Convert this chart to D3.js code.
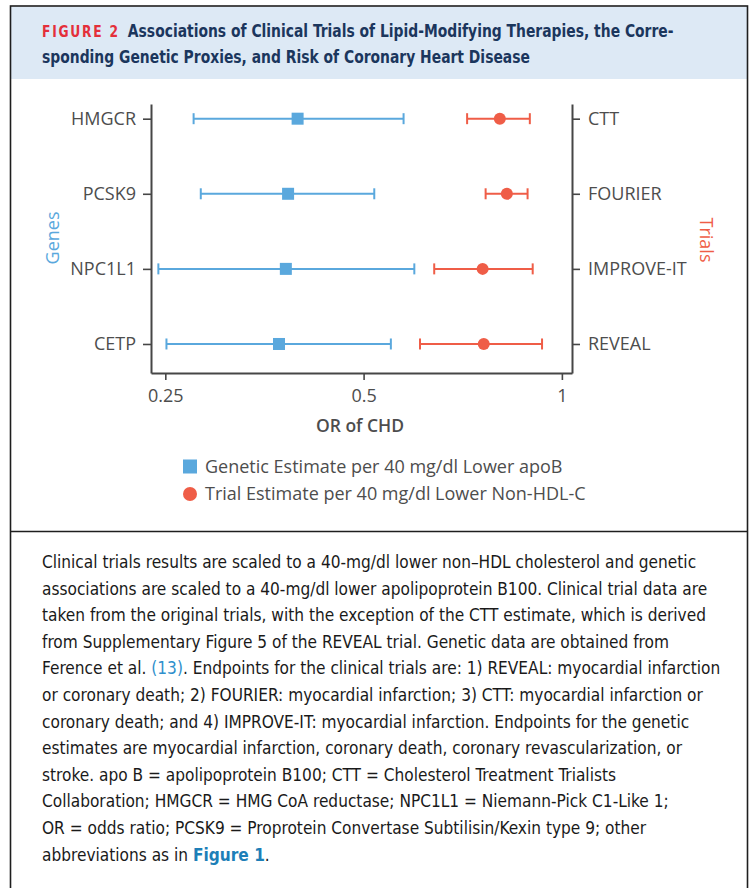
<!DOCTYPE html>
<html>
<head>
<meta charset="utf-8">
<script src="https://cdn.jsdelivr.net/npm/d3@7"></script>
<style>
  html, body { margin: 0; padding: 0; background: #fff; }
  svg { display: block; }
</style>
</head>
<body>
<svg id="fig" width="756" height="888"></svg>
<script>
// ---------- DATA ----------
const genes = ["HMGCR", "PCSK9", "NPC1L1", "CETP"];
const geneEst = [0.397, 0.384, 0.381, 0.372];
const geneLo  = [0.276, 0.283, 0.244, 0.251];
const geneHi  = [0.575, 0.519, 0.597, 0.550];

const trials = ["CTT", "FOURIER", "IMPROVE-IT", "REVEAL"];
const trialEst = [0.805, 0.825, 0.758, 0.761];
const trialLo  = [0.718, 0.766, 0.640, 0.609];
const trialHi  = [0.894, 0.887, 0.903, 0.933];

const xTicks = [0.25, 0.5, 1];
const xDomain = [0.2378, 1.036];

const legendLabels = ["Genetic Estimate per 40 mg/dl Lower apoB", "Trial Estimate per 40 mg/dl Lower Non-HDL-C"];
const titleTag = "FIGURE 2";
const titleLines = ["Associations of Clinical Trials of Lipid-Modifying Therapies, the Corre-",
                    "sponding Genetic Proxies, and Risk of Coronary Heart Disease"];
const captionLines = [
  [["Clinical trials results are scaled to a 40-mg/dl lower non\u2013HDL cholesterol and genetic", ""]],
  [["associations are scaled to a 40-mg/dl lower apolipoprotein B100. Clinical trial data are", ""]],
  [["taken from the original trials, with the exception of the CTT estimate, which is derived", ""]],
  [["from Supplementary Figure 5 of the REVEAL trial. Genetic data are obtained from", ""]],
  [["Ference et al. ", ""], ["(13)", "ref"], [". Endpoints for the clinical trials are: 1) REVEAL: myocardial infarction", ""]],
  [["or coronary death; 2) FOURIER: myocardial infarction; 3) CTT: myocardial infarction or", ""]],
  [["coronary death; and 4) IMPROVE-IT: myocardial infarction. Endpoints for the genetic", ""]],
  [["estimates are myocardial infarction, coronary death, coronary revascularization, or", ""]],
  [["stroke. apo B = apolipoprotein B100; CTT = Cholesterol Treatment Trialists", ""]],
  [["Collaboration; HMGCR = HMG CoA reductase; NPC1L1 = Niemann-Pick C1-Like 1;", ""]],
  [["OR = odds ratio; PCSK9 = Proprotein Convertase Subtilisin/Kexin type 9; other", ""]],
  [["abbreviations as in ", ""], ["Figure 1", "fig"], [".", ""]]
];

// ---------- STYLE ----------
const BLUE = "#5aa8dd", RED = "#ef5d47", AXIS = "#464646", LABEL = "#4d4d4d";
const chartFont = "'Open Sans', 'Noto Sans', sans-serif";
const condFont = "'Liberation Sans Narrow', 'DejaVu Sans Condensed', 'Roboto Condensed', sans-serif";
const FS = 18;

const svg = d3.select("#fig");

// frame
svg.append("rect").attr("x", 11).attr("y", 6.5).attr("width", 736).attr("height", 72.5)
  .attr("fill", "#dde9f5");
svg.append("rect").attr("x", 10.5).attr("y", 6).attr("width", 737).attr("height", 900)
  .attr("fill", "none").attr("stroke", "#1e1e1e").attr("stroke-width", 1.6);
svg.append("line").attr("x1", 10.5).attr("x2", 747.5).attr("y1", 531.5).attr("y2", 531.5)
  .attr("stroke", "#1e1e1e").attr("stroke-width", 1.6);

// title (condensed look by horizontal scaling)
const t2 = svg.append("text").attr("transform", "translate(42,62.5)")
  .attr("font-family", condFont).attr("font-weight", "bold").attr("font-size", 17.5).attr("fill", "#1b365d")
  .text(titleLines[1]);
const tk = 488 / t2.node().getComputedTextLength();
t2.attr("transform", `translate(42,62.5) scale(${tk},1)`);
const t1 = svg.append("text").attr("transform", `translate(42,37) scale(${tk},1)`)
  .attr("font-family", condFont).attr("font-weight", "bold").attr("font-size", 17.5).attr("fill", "#1b365d");
t1.append("tspan").text(titleTag).attr("fill", "#e42f3a").attr("letter-spacing", 2).attr("font-size", 15.5);
t1.append("tspan").attr("dx", 9).text(titleLines[0]);

// ---------- CHART ----------
const x = d3.scaleLog().base(2).domain(xDomain).range([151, 572]);
const yG = d3.scalePoint().domain(genes).range([104, 373]).padding(0.291).align(0.336);
const yT = d3.scalePoint().domain(trials).range([104, 373]).padding(0.291).align(0.336);

function styleAxis(g) {
  g.select(".domain").attr("stroke", AXIS).attr("stroke-width", 2);
  g.selectAll(".tick line").attr("stroke", AXIS).attr("stroke-width", 1.6);
  g.selectAll(".tick text").attr("fill", LABEL).attr("font-family", chartFont).attr("font-size", FS);
}

const gx = svg.append("g").attr("transform", "translate(0,373)")
  .call(d3.axisBottom(x).tickValues(xTicks).tickFormat(d3.format("")).tickSize(7).tickSizeOuter(0).tickPadding(9));
styleAxis(gx);
const gl = svg.append("g").attr("transform", "translate(151,0)")
  .call(d3.axisLeft(yG).tickSize(8).tickSizeOuter(0).tickPadding(7));
styleAxis(gl);
const gr = svg.append("g").attr("transform", "translate(572,0)")
  .call(d3.axisRight(yT).tickSize(8).tickSizeOuter(0).tickPadding(8));
styleAxis(gr);

// axis titles
svg.append("text").attr("x", 360).attr("y", 432).attr("text-anchor", "middle")
  .attr("font-family", chartFont).attr("font-weight", 600).attr("font-size", 17.5).attr("fill", LABEL)
  .text("OR of CHD");
svg.append("text").attr("transform", "translate(52,238) rotate(-90)").attr("text-anchor", "middle")
  .attr("dominant-baseline", "central").attr("font-family", chartFont).attr("font-size", FS).attr("fill", BLUE)
  .text("Genes");
svg.append("text").attr("transform", "translate(707,240) rotate(90)").attr("text-anchor", "middle")
  .attr("dominant-baseline", "central").attr("font-family", chartFont).attr("font-size", FS).attr("fill", RED)
  .text("Trials");

// error bars
function drawSeries(cats, y, est, lo, hi, color, shape) {
  const g = svg.append("g");
  const rows = cats.map((c, i) => ({ c, e: est[i], l: lo[i], h: hi[i] }));
  g.selectAll("line.ci").data(rows).join("line").attr("class", "ci")
    .attr("x1", d => x(d.l)).attr("x2", d => x(d.h)).attr("y1", d => y(d.c)).attr("y2", d => y(d.c))
    .attr("stroke", color).attr("stroke-width", 2);
  ["l", "h"].forEach(k => {
    g.selectAll("line.cap" + k).data(rows).join("line").attr("class", "cap" + k)
      .attr("x1", d => x(d[k])).attr("x2", d => x(d[k])).attr("y1", d => y(d.c) - 5.5).attr("y2", d => y(d.c) + 5.5)
      .attr("stroke", color).attr("stroke-width", 2);
  });
  if (shape === "square") {
    g.selectAll("rect").data(rows).join("rect")
      .attr("x", d => x(d.e) - 6).attr("y", d => y(d.c) - 6).attr("width", 12).attr("height", 12).attr("fill", color);
  } else {
    g.selectAll("circle").data(rows).join("circle")
      .attr("cx", d => x(d.e)).attr("cy", d => y(d.c)).attr("r", 6).attr("fill", color);
  }
}
drawSeries(genes, yG, geneEst, geneLo, geneHi, BLUE, "square");
drawSeries(trials, yT, trialEst, trialLo, trialHi, RED, "circle");

// legend
const lg = svg.append("g");
lg.append("rect").attr("x", 183).attr("y", 459.5).attr("width", 14).attr("height", 14).attr("fill", BLUE);
lg.append("circle").attr("cx", 190).attr("cy", 494).attr("r", 7).attr("fill", RED);
legendLabels.forEach((t, i) => {
  lg.append("text").attr("x", 205).attr("y", 472.5 + i * 27.5)
    .attr("font-family", chartFont).attr("font-size", FS).attr("fill", LABEL).text(t);
});

// ---------- CAPTION (condensed look by horizontal scaling) ----------
const capFS = 17;
const capTexts = captionLines.map((parts, i) => {
  const t = svg.append("text").attr("transform", `translate(42,${568 + i * 26.6})`)
    .attr("font-family", condFont).attr("font-size", capFS).attr("fill", "#1a1a1a");
  parts.forEach(([s, kind]) => {
    const sp = t.append("tspan").text(s);
    if (kind === "ref") sp.attr("fill", "#2f8fcc");
    if (kind === "fig") sp.attr("fill", "#1d7fb8").attr("font-weight", "bold");
  });
  return t;
});
const ck = 655 / capTexts[0].node().getComputedTextLength();
capTexts.forEach((t, i) => t.attr("transform", `translate(42,${568 + i * 26.6}) scale(${ck},1)`));
</script>
</body>
</html>
